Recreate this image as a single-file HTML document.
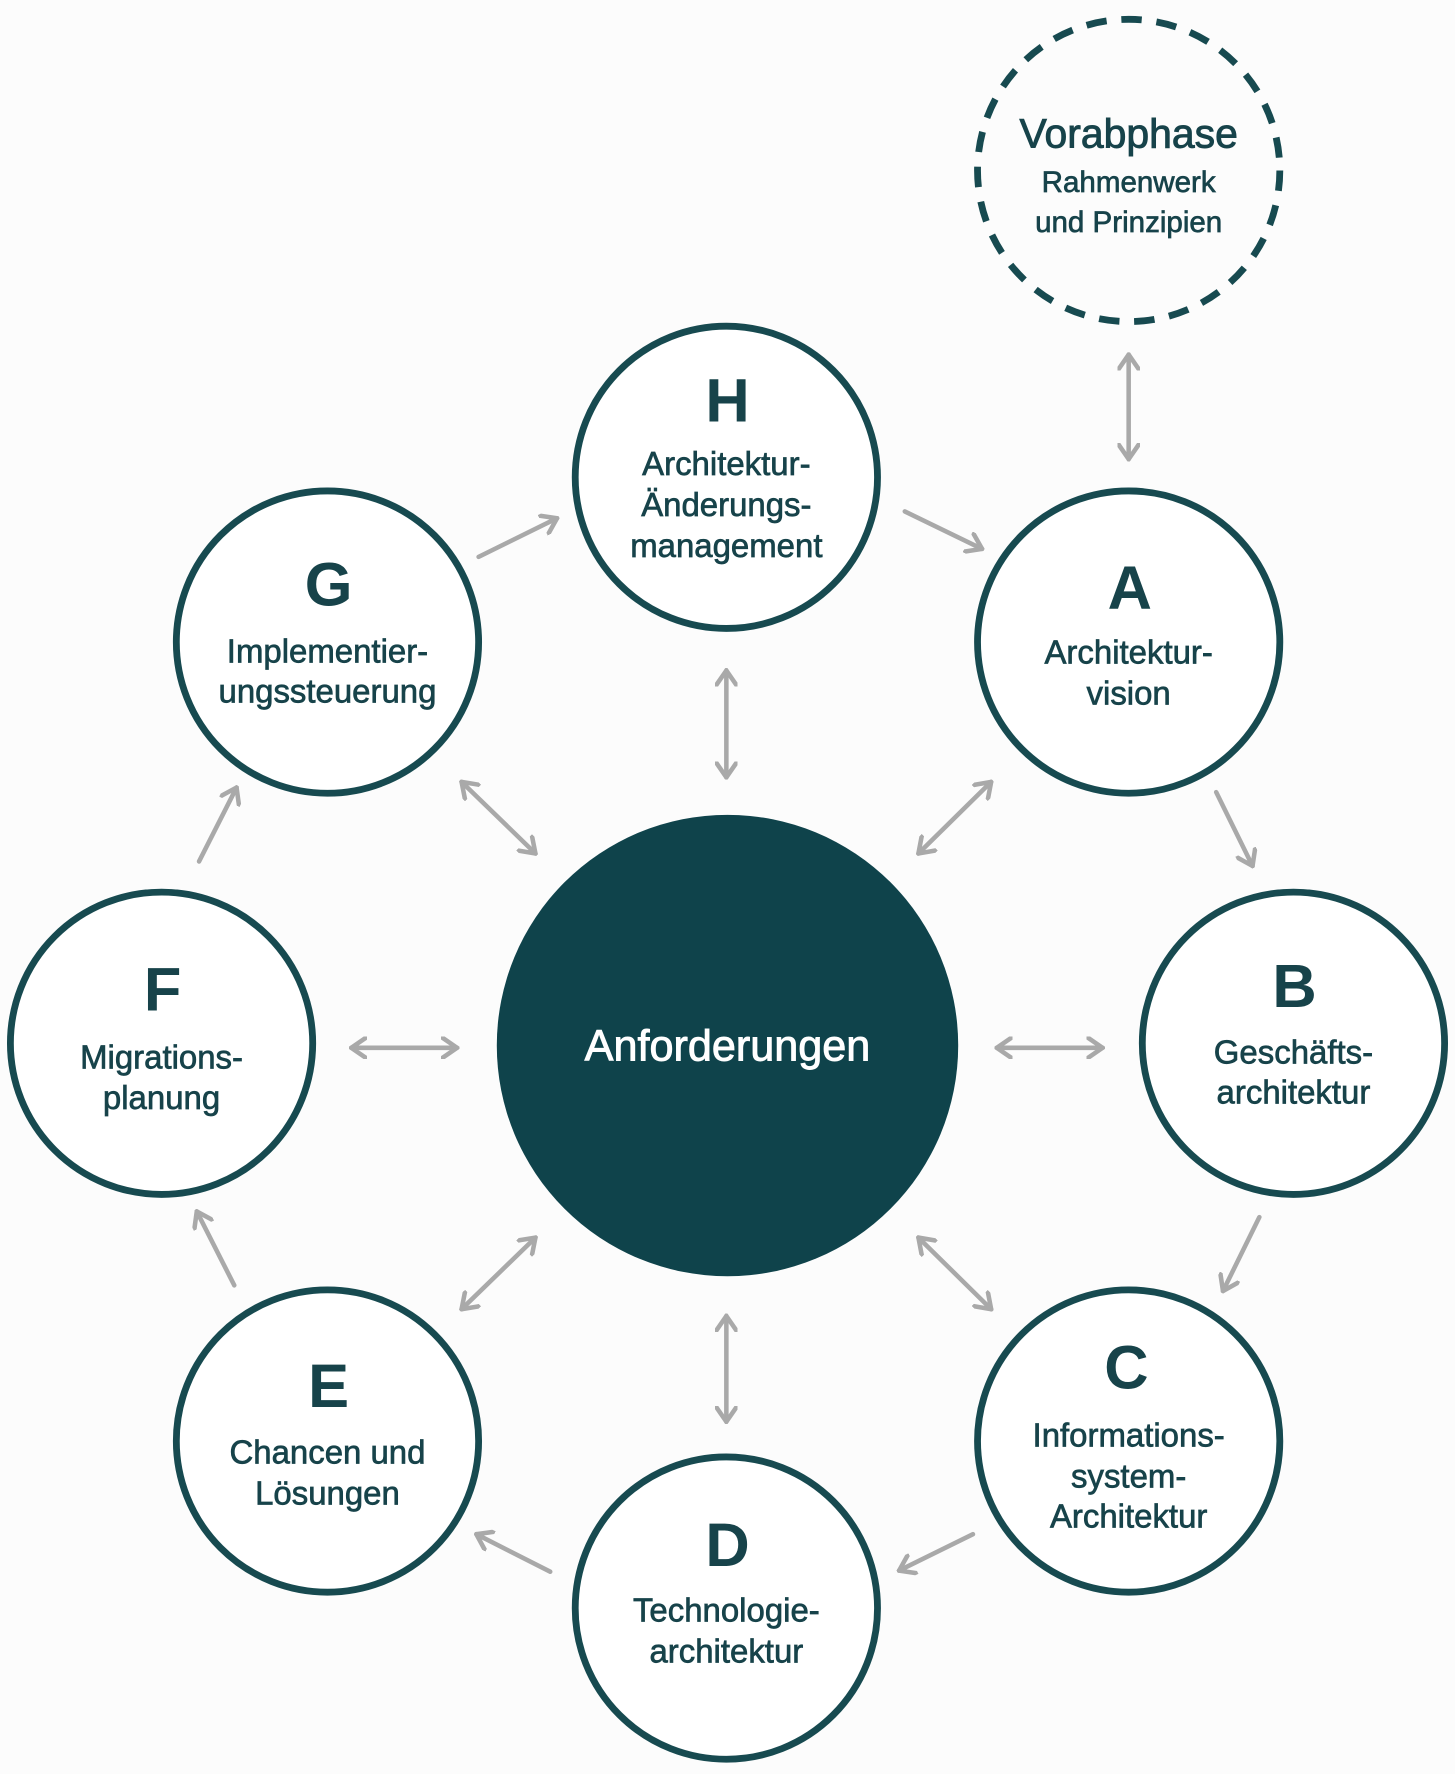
<!DOCTYPE html>
<html><head><meta charset="utf-8"><style>
html,body{margin:0;padding:0;background:#fcfcfc;}
svg{display:block;}
text{font-family:"Liberation Sans",sans-serif;fill:#17434a;text-anchor:middle;stroke:#17434a;stroke-width:0.6px;}
.L{font-size:54px;font-weight:bold;stroke-width:0;letter-spacing:-2px;}
.t{font-size:29px;}
</style></head><body>
<svg width="1455" height="1774" viewBox="0 0 1280 1561" xmlns="http://www.w3.org/2000/svg">
<defs>
<marker id="h" viewBox="-14 -10 16 20" refX="0" refY="0" markerWidth="16" markerHeight="20" markerUnits="userSpaceOnUse" orient="auto-start-reverse">
<path d="M-13,-9 L0,0 L-13,9" fill="none" stroke="#a9a9a9" stroke-width="4" stroke-linecap="round" stroke-linejoin="miter"/>
</marker>
</defs>
<rect width="1280" height="1561" fill="#fcfcfc"/>
<g fill="#fff" stroke="#174a50" stroke-width="6">
<circle cx="993" cy="150" r="133" stroke-dasharray="18 13" fill="none"/>
<circle cx="639" cy="420" r="133"/>
<circle cx="993" cy="565" r="133"/>
<circle cx="288" cy="565" r="133"/>
<circle cx="1138" cy="918" r="133"/>
<circle cx="142" cy="918" r="133"/>
<circle cx="993" cy="1268" r="133"/>
<circle cx="288" cy="1268" r="133"/>
<circle cx="639" cy="1415" r="133"/>
</g>
<circle cx="640" cy="920" r="203" fill="#0f434b"/>
<g stroke="#a9a9a9" stroke-width="4" fill="none" stroke-linecap="round">
<line x1="993" y1="312" x2="993" y2="404" marker-start="url(#h)" marker-end="url(#h)"/>
<line x1="796" y1="450" x2="864" y2="483" marker-end="url(#h)"/>
<line x1="421" y1="490" x2="490" y2="456" marker-end="url(#h)"/>
<line x1="639" y1="590" x2="639" y2="684" marker-start="url(#h)" marker-end="url(#h)"/>
<line x1="872" y1="688" x2="808" y2="751" marker-start="url(#h)" marker-end="url(#h)"/>
<line x1="406" y1="688" x2="471" y2="751" marker-start="url(#h)" marker-end="url(#h)"/>
<line x1="1070" y1="697" x2="1102" y2="762" marker-end="url(#h)"/>
<line x1="175" y1="758" x2="208" y2="693" marker-end="url(#h)"/>
<line x1="309" y1="922" x2="402" y2="922" marker-start="url(#h)" marker-end="url(#h)"/>
<line x1="877" y1="922" x2="970" y2="922" marker-start="url(#h)" marker-end="url(#h)"/>
<line x1="1108" y1="1071" x2="1076" y2="1136" marker-end="url(#h)"/>
<line x1="206" y1="1131" x2="173" y2="1066" marker-end="url(#h)"/>
<line x1="471" y1="1089" x2="406" y2="1152" marker-start="url(#h)" marker-end="url(#h)"/>
<line x1="808" y1="1089" x2="872" y2="1152" marker-start="url(#h)" marker-end="url(#h)"/>
<line x1="639" y1="1158" x2="639" y2="1251" marker-start="url(#h)" marker-end="url(#h)"/>
<line x1="856" y1="1350" x2="791" y2="1382" marker-end="url(#h)"/>
<line x1="484" y1="1383" x2="419" y2="1350" marker-end="url(#h)"/>
</g>
<text x="993" y="130" style="font-size:36px;stroke-width:0.8px">Vorabphase</text>
<text x="993" y="169" style="font-size:26px">Rahmenwerk</text>
<text x="993" y="204" style="font-size:26px">und Prinzipien</text>

<text class="L" x="639" y="371">H</text>
<text class="t" x="639" y="418">Architektur-</text>
<text class="t" x="639" y="454">Änderungs-</text>
<text class="t" x="639" y="490">management</text>

<text class="L" x="993" y="536">A</text>
<text class="t" x="993" y="584">Architektur-</text>
<text class="t" x="993" y="620">vision</text>

<text class="L" x="288" y="533">G</text>
<text class="t" x="288" y="583">Implementier-</text>
<text class="t" x="288" y="618">ungssteuerung</text>

<text class="L" x="1138" y="886">B</text>
<text class="t" x="1138" y="936">Geschäfts-</text>
<text class="t" x="1138" y="971">architektur</text>

<text class="L" x="142" y="889">F</text>
<text class="t" x="142" y="940">Migrations-</text>
<text class="t" x="142" y="976">planung</text>

<text x="640" y="933" style="font-size:38px;fill:#fff;stroke:#fff;stroke-width:0.8px">Anforderungen</text>

<text class="L" x="990" y="1222">C</text>
<text class="t" x="993" y="1273">Informations-</text>
<text class="t" x="993" y="1309">system-</text>
<text class="t" x="993" y="1344">Architektur</text>

<text class="L" x="288" y="1238">E</text>
<text class="t" x="288" y="1288">Chancen und</text>
<text class="t" x="288" y="1324">Lösungen</text>

<text class="L" x="639" y="1378">D</text>
<text class="t" x="639" y="1427">Technologie-</text>
<text class="t" x="639" y="1463">architektur</text>
</svg>
</body></html>
